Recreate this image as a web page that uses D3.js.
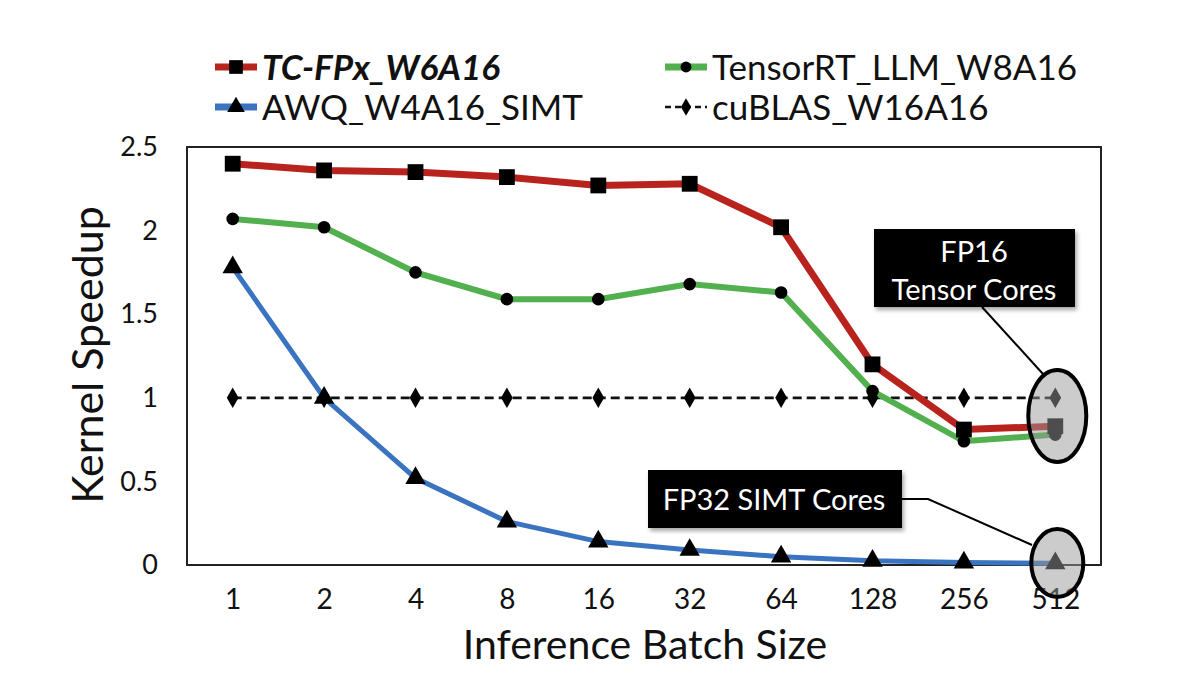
<!DOCTYPE html>
<html lang="en">
<head>
    <meta charset="UTF-8">
    <title>Kernel Speedup</title>
    <script src="https://d3js.org/d3.v7.min.js"></script>
    <style>
        body { margin: 0; background: #fff; }
        text { font-family: Lato, "Open Sans", sans-serif; fill: #111; }
    </style>
</head>
<body>
    <svg id="chart" width="1200" height="700"></svg>
    <script>
        // data
        const batchSizes = ["1", "2", "4", "8", "16", "32", "64", "128", "256", "512"];
        const tcFpx = [2.40, 2.36, 2.35, 2.32, 2.27, 2.28, 2.02, 1.20, 0.81, 0.83];
        const tensorRT = [2.07, 2.02, 1.75, 1.59, 1.59, 1.68, 1.63, 1.04, 0.74, 0.78];
        const awq = [1.78, 1.00, 0.52, 0.26, 0.14, 0.09, 0.05, 0.025, 0.015, 0.01];
        const cublas = [1, 1, 1, 1, 1, 1, 1, 1, 1, 1];
        const yTicks = [0, 0.5, 1, 1.5, 2, 2.5];

        const plotLeft = 187, plotRight = 1101, plotTop = 147, plotBottom = 565;
        const svg = d3.select("#chart");

        const x = d3.scalePoint().domain(batchSizes).range([plotLeft, plotRight]).padding(0.5);
        const y = d3.scaleLinear().domain([0, 2.5]).range([plotBottom, plotTop]);

        const series = [
            { name: "TC-FPx_W6A16", values: tcFpx, color: "#b8231d", width: 7, symbol: d3.symbolSquare, size: 250, dash: null, bold: true },
            { name: "TensorRT_LLM_W8A16", values: tensorRT, color: "#52b04f", width: 6, symbol: d3.symbolCircle, size: 125, dash: null, bold: false },
            { name: "AWQ_W4A16_SIMT", values: awq, color: "#3a73c0", width: 5, symbol: d3.symbolTriangle, size: 180, dash: null, bold: false },
            { name: "cuBLAS_W16A16", values: cublas, color: "#111", width: 2.8, symbol: d3.symbolDiamond, size: 120, dash: "9,5", bold: false }
        ];

        // drop shadow for the callout boxes
        const defs = svg.append("defs");
        defs.append("filter").attr("id", "shadow")
            .append("feDropShadow")
            .attr("dx", 2).attr("dy", 3).attr("stdDeviation", 2)
            .attr("flood-color", "#000").attr("flood-opacity", 0.35);

        // plot frame
        svg.append("rect")
            .attr("x", plotLeft).attr("y", plotTop)
            .attr("width", plotRight - plotLeft).attr("height", plotBottom - plotTop)
            .attr("fill", "none").attr("stroke", "#222").attr("stroke-width", 2);

        // axes
        const yAxis = svg.append("g")
            .attr("transform", `translate(${plotLeft},0)`)
            .call(d3.axisLeft(y).tickValues(yTicks).tickSize(0).tickPadding(29).tickFormat(d => String(d)));
        yAxis.select(".domain").remove();
        yAxis.selectAll("text").attr("font-size", 27).attr("font-family", "Lato, sans-serif");

        const xAxis = svg.append("g")
            .attr("transform", `translate(0,${plotBottom})`)
            .call(d3.axisBottom(x).tickSize(0).tickPadding(24));
        xAxis.select(".domain").remove();
        xAxis.selectAll("text").attr("font-size", 28).attr("font-family", "Lato, sans-serif");

        svg.append("text")
            .attr("x", 645).attr("y", 659)
            .attr("text-anchor", "middle")
            .attr("font-size", 41)
            .text("Inference Batch Size");

        svg.append("text")
            .attr("transform", "translate(103,355) rotate(-90)")
            .attr("text-anchor", "middle")
            .attr("font-size", 43)
            .text("Kernel Speedup");

        // lines + markers
        const line = d3.line()
            .x((d, i) => x(batchSizes[i]))
            .y(d => y(d));

        // draw dashed baseline first, colored lines over it
        const drawOrder = [3, 1, 0, 2];
        drawOrder.forEach(k => {
            const s = series[k];
            svg.append("path")
                .datum(s.values)
                .attr("d", line)
                .attr("fill", "none")
                .attr("stroke", s.color)
                .attr("stroke-width", s.width)
                .attr("stroke-dasharray", s.dash);
        });
        drawOrder.forEach(k => {
            const s = series[k];
            svg.append("g").selectAll("path")
                .data(s.values)
                .enter().append("path")
                .attr("transform", (d, i) => `translate(${x(batchSizes[i])},${y(d)})`)
                .attr("d", d3.symbol().type(s.symbol).size(s.size))
                .attr("fill", "#000");
        });

        // legend
        const legendPos = [
            { x: 215, y: 67 }, { x: 665, y: 67 },
            { x: 215, y: 107 }, { x: 665, y: 107 }
        ];
        series.forEach((s, k) => {
            const p = legendPos[k];
            const g = svg.append("g").attr("transform", `translate(${p.x},${p.y})`);
            g.append("line")
                .attr("x1", 0).attr("x2", 42).attr("y1", 0).attr("y2", 0)
                .attr("stroke", s.color)
                .attr("stroke-width", s.dash ? 2.5 : 7)
                .attr("stroke-dasharray", s.dash ? "6,4" : null);
            g.append("path")
                .attr("transform", "translate(21,0)")
                .attr("d", d3.symbol().type(s.symbol).size(s.size * 0.75))
                .attr("fill", "#000");
            g.append("text")
                .attr("x", 47).attr("y", 13)
                .attr("font-size", 35)
                .attr("font-weight", s.bold ? "bold" : "normal")
                .attr("font-style", s.bold ? "italic" : "normal")
                .text(s.name);
        });

        // highlight ellipses at batch 512
        const x512 = x("512");
        svg.append("ellipse")
            .attr("cx", x512 + 2).attr("cy", 416)
            .attr("rx", 29).attr("ry", 46)
            .attr("fill", "#999").attr("fill-opacity", 0.5)
            .attr("stroke", "#000").attr("stroke-width", 4);
        svg.append("ellipse")
            .attr("cx", x512 + 2).attr("cy", 563)
            .attr("rx", 26).attr("ry", 34)
            .attr("fill", "#999").attr("fill-opacity", 0.5)
            .attr("stroke", "#000").attr("stroke-width", 4);

        // callouts
        svg.append("path")
            .attr("d", "M982,307 L1043,374")
            .attr("stroke", "#000").attr("stroke-width", 2).attr("fill", "none");
        svg.append("path")
            .attr("d", "M902,499 L928,499 L1032,545")
            .attr("stroke", "#000").attr("stroke-width", 2).attr("fill", "none");

        svg.append("rect")
            .attr("x", 874).attr("y", 229).attr("width", 201).attr("height", 78)
            .attr("fill", "#000").attr("filter", "url(#shadow)");
        svg.append("text")
            .attr("x", 974).attr("y", 262)
            .attr("text-anchor", "middle").attr("font-size", 29)
            .style("fill", "#fff").text("FP16");
        svg.append("text")
            .attr("x", 974).attr("y", 300)
            .attr("text-anchor", "middle").attr("font-size", 29)
            .style("fill", "#fff").text("Tensor Cores");

        svg.append("rect")
            .attr("x", 648).attr("y", 470).attr("width", 254).attr("height", 58)
            .attr("fill", "#000").attr("filter", "url(#shadow)");
        svg.append("text")
            .attr("x", 774).attr("y", 510)
            .attr("text-anchor", "middle").attr("font-size", 29)
            .style("fill", "#fff").text("FP32 SIMT Cores");
    </script>
</body>
</html>
